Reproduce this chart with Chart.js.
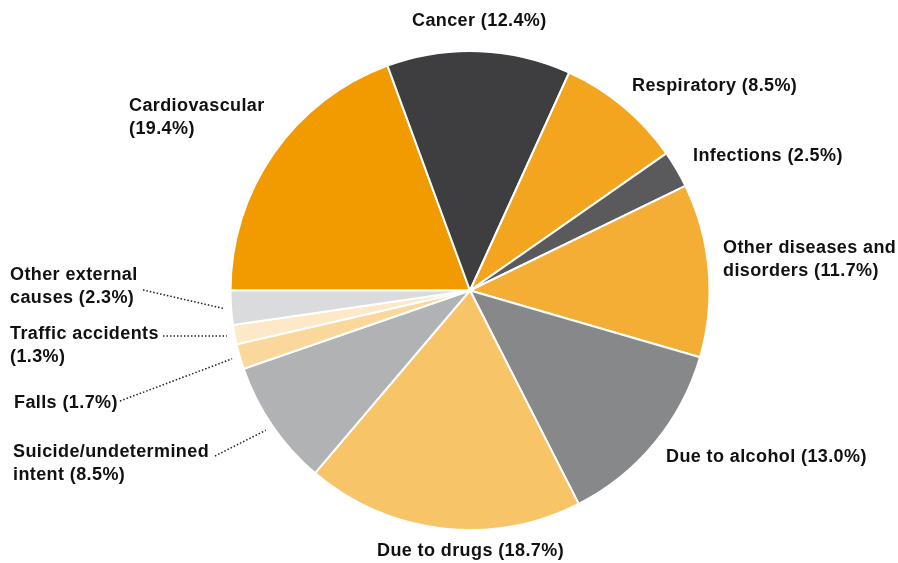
<!DOCTYPE html>
<html>
<head>
<meta charset="utf-8">
<script src="https://cdn.jsdelivr.net/npm/chart.js@4"></script>
<style>
  html, body { margin: 0; padding: 0; background: #fff; }
  #wrap { width: 898px; height: 563px; }
</style>
</head>
<body>
<div id="wrap"><canvas id="grafico" width="898" height="563"></canvas></div>
<script>
// dati
const categorie = ['Cardiovascular', 'Cancer', 'Respiratory', 'Infections', 'Other diseases and disorders',
    'Due to alcohol', 'Due to drugs', 'Suicide/undetermined intent', 'Falls', 'Traffic accidents', 'Other external causes'];
const percentuali = [19.4, 12.4, 8.5, 2.5, 11.7, 13.0, 18.7, 8.5, 1.7, 1.3, 2.3];
const colori = ['#F29B00', '#3E3E40', '#F4A51F', '#5A5A5C', '#F5AE35',
    '#87888A', '#F8C468', '#B1B2B4', '#FAD79A', '#FDE8C8', '#DADBDC'];

// righe di testo delle etichette
const righe = [
    ['Cardiovascular', '(19.4%)'],
    ['Cancer (12.4%)'],
    ['Respiratory (8.5%)'],
    ['Infections (2.5%)'],
    ['Other diseases and', 'disorders (11.7%)'],
    ['Due to alcohol (13.0%)'],
    ['Due to drugs (18.7%)'],
    ['Suicide/undetermined', 'intent (8.5%)'],
    ['Falls (1.7%)'],
    ['Traffic accidents', '(1.3%)'],
    ['Other external', 'causes (2.3%)']
];

// posizione etichette (x sinistra, y centro prima riga) e linee guida
const posEtichette = [
    { x: 129, y: 106 },
    { x: 412, y: 21 },
    { x: 632, y: 86 },
    { x: 693, y: 156 },
    { x: 723, y: 248 },
    { x: 666, y: 457 },
    { x: 377, y: 551 },
    { x: 13, y: 452, linea: [215, 456] },
    { x: 14, y: 403, linea: [120, 401] },
    { x: 10, y: 334, linea: [163, 336] },
    { x: 10, y: 275, linea: [143, 290] }
];

const etichettePlugin = {
    id: 'etichette',
    afterDraw(chart) {
        const ctx = chart.ctx;
        const archi = chart.getDatasetMeta(0).data;
        ctx.save();
        ctx.font = 'bold 18px "Liberation Sans", Arial, sans-serif';
        ctx.letterSpacing = '0.4px';
        ctx.fillStyle = '#111';
        ctx.textBaseline = 'middle';
        ctx.textAlign = 'left';
        righe.forEach((testo, i) => {
            let p = posEtichette[i];
            testo.forEach((r, k) => {
                ctx.fillText(r, p.x, p.y + k * 23.5);
            });
            if (p.linea) {
                let a = archi[i];
                let mid = (a.startAngle + a.endAngle) / 2;
                let rr = a.outerRadius + 8;
                let ex = a.x + Math.cos(mid) * rr;
                let ey = a.y + Math.sin(mid) * rr;
                ctx.beginPath();
                ctx.setLineDash([1.5, 2]);
                ctx.lineWidth = 1.5;
                ctx.strokeStyle = '#222';
                ctx.moveTo(p.linea[0], p.linea[1]);
                ctx.lineTo(ex, ey);
                ctx.stroke();
            }
        });
        ctx.restore();
    }
};

let ctx = document.getElementById('grafico').getContext('2d');
new Chart(ctx, {
    type: 'pie',
    data: {
        labels: categorie,
        datasets: [{
            data: percentuali,
            backgroundColor: colori,
            borderColor: '#ffffff',
            borderWidth: 2
        }]
    },
    options: {
        responsive: false,
        animation: false,
        rotation: -90,
        layout: { padding: { left: 42, right: 0, top: 50, bottom: 32 } },
        plugins: {
            legend: { display: false },
            tooltip: { enabled: false }
        }
    },
    plugins: [etichettePlugin]
});
</script>
</body>
</html>
